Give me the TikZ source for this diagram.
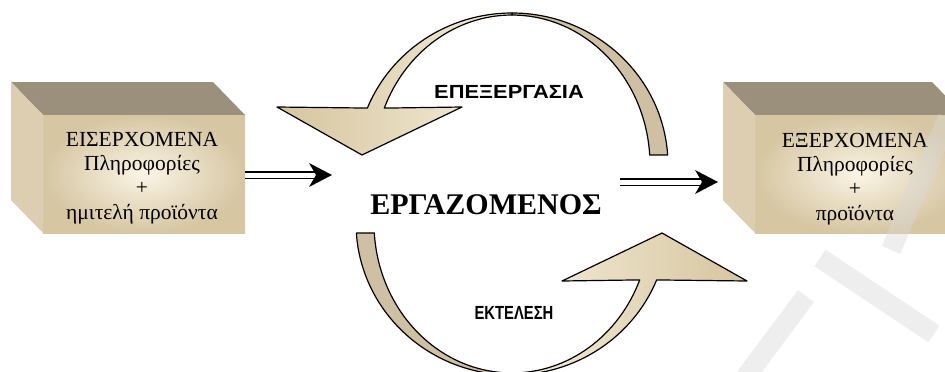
\documentclass[tikz,border=0pt]{standalone}
\usepackage{fontspec}
\setmainfont{Liberation Serif}
\newfontfamily\labelsans{Liberation Sans}
\usetikzlibrary{shadings}

\definecolor{boxtop}{HTML}{9A907B}
\definecolor{boxside}{HTML}{DDCEB1}
\definecolor{boxedge}{HTML}{D6C6A2}
\definecolor{boxmid}{HTML}{FBF5E6}
\definecolor{bandtan}{HTML}{CFC0A4}
\definecolor{bandcream}{HTML}{F5EEDC}
\definecolor{bandshade}{HTML}{D6C59E}

\tikzset{
  outline/.style={draw=black, line width=1.2pt, line join=round},
  boxtext/.style={align=center, font=\fontsize{21.5}{24.3}\selectfont},
  looplabel/.style={font=\labelsans\bfseries\fontsize{19}{20}\selectfont},
  rail/.style={line width=1.8pt},
  headtip/.style={fill=black},
  faintstroke/.style={draw=gray!30, draw opacity=0.45, line width=20pt, line cap=butt},
}

% a 3-D block: front face corners (#1,#2)-(#3,#4), depth offset 32
\newcommand{\blockshape}[4]{%
  \fill[boxtop] (#1-32,#2-33) -- (#3-32,#2-33) -- (#3,#2) -- (#1,#2) -- cycle;
  \fill[boxside] (#1-32,#2-33) -- (#1,#2) -- (#1,#4) -- (#1-32,#4-33) -- cycle;
  \shade[inner color=boxmid, outer color=boxedge] (#1,#2) rectangle (#3,#4);
}

\begin{document}
\begin{tikzpicture}[x=1pt, y=-1pt]
\useasboundingbox (0,0) rectangle (945,372);
\clip (0,0) rectangle (945,372);

% input and output blocks
\blockshape{43}{115}{245}{233}
\blockshape{755}{115}{964}{233}
\node[boxtext] (in) at (142,178) {ΕΙΣΕΡΧΟΜΕΝΑ\\Πληροφορίες\\+\\ημιτελή προϊόντα};
\node[boxtext] (out) at (855,179) {ΕΞΕΡΧΟΜΕΝΑ\\Πληροφορίες\\+\\προϊόντα};

% central label
\node[font=\bfseries\fontsize{30}{32}\selectfont] (worker) at (486,205) {ΕΡΓΑΖΟΜΕΝΟΣ};

% upper loop: processing
\draw[outline, fill=bandtan]
  (512,13) arc[start angle=-90, end angle=-3.8, x radius=156, y radius=152]
  -- (649.7,155.1) arc[start angle=-3.8, end angle=-90, x radius=138, y radius=150] -- cycle;
\draw[outline, left color=bandshade, right color=bandcream]
  (512,13) arc[start angle=-90, end angle=-158, x radius=156, y radius=152]
  -- (277,107) -- (362,155) -- (462,107) -- (384.3,108.1)
  arc[start angle=-157.7, end angle=-90, x radius=138, y radius=150] -- cycle;
\node[looplabel, xscale=1.15] (proc) at (509,92) {ΕΠΕΞΕΡΓΑΣΙΑ};

% lower loop: execution
\draw[outline, fill=bandtan]
  (512,375) arc[start angle=90, end angle=176.2, x radius=156, y radius=152]
  -- (374.3,232.9) arc[start angle=176.2, end angle=90, x radius=138, y radius=150] -- cycle;
\draw[outline, left color=bandcream, right color=bandshade]
  (512,375) arc[start angle=90, end angle=22, x radius=156, y radius=152]
  -- (747,281) -- (662,233) -- (562,281) -- (639.7,279.9)
  arc[start angle=22.3, end angle=90, x radius=138, y radius=150] -- cycle;
\node[looplabel, xscale=0.78] (exec) at (514,313) {ΕΚΤΕΛΕΣΗ};

% double arrows
\coordinate (a1) at (245,175);
\coordinate (a2) at (332,175);
\coordinate (b1) at (620,182);
\coordinate (b2) at (718,182);
\foreach \s/\e in {a1/a2, b1/b2}{
  \draw[rail] ([yshift=-3.4pt]\s) -- ([xshift=-14pt, yshift=-3.4pt]\e);
  \draw[rail] ([yshift=3.4pt]\s) -- ([xshift=-14pt, yshift=3.4pt]\e);
  \fill[headtip] (\e) -- ([xshift=-23pt, yshift=-12pt]\e) -- ([xshift=-16pt]\e)
    -- ([xshift=-23pt, yshift=12pt]\e) -- cycle;
}

% light grey strokes over the lower right corner
\draw[faintstroke] (745,378) -- (806,296);
\draw[faintstroke] (820,258) -- (934,334);
\draw[faintstroke] (891,250) -- (948,118);
\end{tikzpicture}
\end{document}
